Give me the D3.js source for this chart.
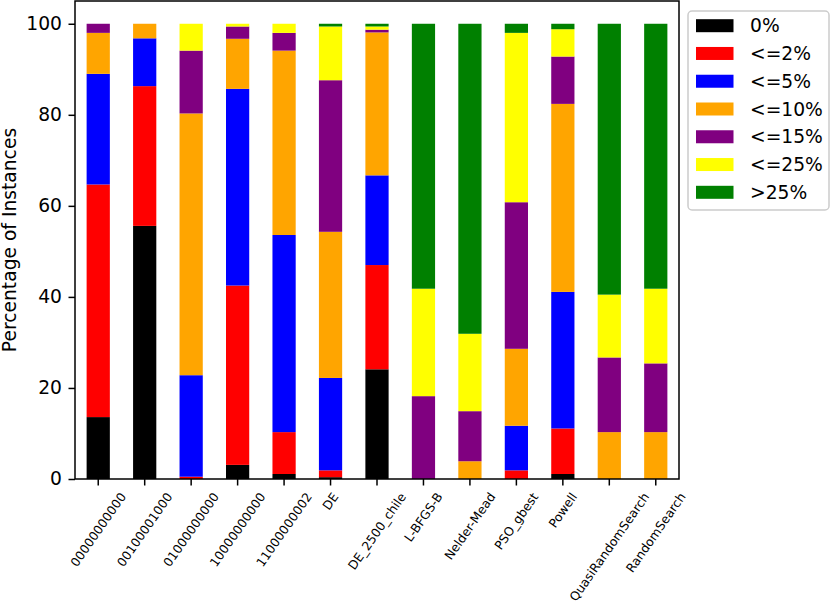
<!DOCTYPE html>
<html>
<head>
<meta charset="utf-8">
<script src="https://cdn.jsdelivr.net/npm/d3@7"></script>
<style>
  body { margin: 0; background: #fff; }
  svg { display: block; font-family: "DejaVu Sans", sans-serif; }
</style>
</head>
<body>
<svg width="831" height="612"></svg>
<script>
// chart data
const categories = ['00000000000', '00100001000', '01000000000', '10000000000', '11000000002', 'DE',
                    'DE_2500_chile', 'L-BFGS-B', 'Nelder-Mead', 'PSO_gbest', 'Powell',
                    'QuasiRandomSearch', 'RandomSearch']
const seriesNames = ['0%', '<=2%', '<=5%', '<=10%', '<=15%', '<=25%', '>25%']
const seriesColors = ['black', 'red', 'blue', 'orange', 'purple', 'yellow', 'green']

const zero      = [13.6, 55.6, 0,    3.1,  1.1,  0.4,  24.1, 0,    0,    0,    1.1,  0,    0]
const upTo2     = [51.1, 30.7, 0.5,  39.4, 9.2,  1.5,  22.9, 0,    0,    1.9,  10.0, 0,    0]
const upTo5     = [24.3, 10.5, 22.3, 43.2, 43.3, 20.3, 19.7, 0,    0,    9.8,  30.0, 0,    0]
const upTo10    = [9.0,  3.2,  57.5, 11.0, 40.5, 32.1, 31.4, 0,    3.9,  16.9, 41.3, 10.3, 10.3]
const upTo15    = [2.0,  0,    13.8, 2.7,  3.9,  33.3, 0.6,  18.2, 11.0, 32.2, 10.4, 16.4, 15.1]
const upTo25    = [0,    0,    5.9,  0.6,  2.0,  11.8, 0.7,  23.6, 17.0, 37.2, 6.0,  13.8, 16.4]
const above25   = [0,    0,    0,    0,    0,    0.6,  0.6,  58.2, 68.1, 2.0,  1.2,  59.5, 58.2]
const yTicks = [0, 20, 40, 60, 80, 100]

const seriesValues = [zero, upTo2, upTo5, upTo10, upTo15, upTo25, above25]

// rows for d3.stack
const rows = categories.map((c, i) => {
  let row = { name: c }
  seriesNames.forEach((s, j) => { row[s] = seriesValues[j][i] })
  return row
})

const svg = d3.select('svg')

const plotLeft = 75, plotRight = 679, plotTop = 1, plotBottom = 479
const bigFont = 18.7
const smallFont = 12.4
const tickLen = 6.5

const xScale = d3.scaleBand().domain(categories).range([plotLeft, plotRight])
  .paddingInner(0.5).paddingOuter(0.25)
const yScale = d3.scaleLinear().domain([0, 105]).range([plotBottom, plotTop])
const colorScale = d3.scaleOrdinal().domain(seriesNames).range(seriesColors)

const stacked = d3.stack().keys(seriesNames)(rows)

// bars
svg.append('g').selectAll('g')
  .data(stacked)
  .enter()
  .append('g')
  .attr('fill', d => colorScale(d.key))
  .selectAll('rect')
  .data(d => d)
  .enter()
  .append('rect')
  .attr('x', d => xScale(d.data.name))
  .attr('width', xScale.bandwidth())
  .attr('y', d => yScale(d[1]))
  .attr('height', d => yScale(d[0]) - yScale(d[1]))

// y axis
const yAxis = d3.axisLeft(yScale).tickValues(yTicks).tickSize(tickLen).tickPadding(6.5)
let yG = svg.append('g')
  .attr('transform', 'translate(' + plotLeft + ',0)')
  .call(yAxis)
yG.select('.domain').remove()
yG.selectAll('line').attr('stroke', 'black').attr('stroke-width', 1.5)
yG.selectAll('text')
  .style('font-size', bigFont + 'px')
  .style('font-family', '"DejaVu Sans"')
  .attr('fill', 'black')

// x axis
const xAxis = d3.axisBottom(xScale).tickSize(tickLen).tickFormat('')
let xG = svg.append('g')
  .attr('transform', 'translate(0,' + plotBottom + ')')
  .call(xAxis)
xG.select('.domain').remove()
xG.selectAll('line').attr('stroke', 'black').attr('stroke-width', 1.5)

// rotated x labels, bounding box centred under the tick (like matplotlib)
const labelTop = plotBottom + 11
const rot = 55
const ang = rot * Math.PI / 180
const lineH = smallFont * 1.17
categories.forEach(c => {
  let t = svg.append('text')
    .text(c)
    .style('font-size', smallFont + 'px')
    .attr('text-anchor', 'middle')
    .attr('dy', '0.35em')
  let w = t.node().getComputedTextLength()
  let boxH = w * Math.sin(ang) + lineH * Math.cos(ang)
  let cx = xScale(c) + xScale.bandwidth() / 2
  let cy = labelTop + boxH / 2
  t.attr('transform', 'translate(' + cx + ',' + cy + ') rotate(' + (-rot) + ')')
})

// spines
svg.append('rect')
  .attr('x', plotLeft).attr('y', plotTop)
  .attr('width', plotRight - plotLeft).attr('height', plotBottom - plotTop)
  .attr('fill', 'none').attr('stroke', 'black').attr('stroke-width', 1.5)

// y label
svg.append('text')
  .text('Percentage of Instances')
  .attr('text-anchor', 'middle')
  .attr('transform', 'translate(16,' + ((plotTop + plotBottom) / 2) + ') rotate(-90)')
  .style('font-size', bigFont + 'px')

// legend
let legend = svg.append('g')
legend.append('rect')
  .attr('x', 688).attr('y', 11)
  .attr('width', 141).attr('height', 199)
  .attr('rx', 4)
  .attr('fill', 'white').attr('fill-opacity', 0.8)
  .attr('stroke', '#cccccc').attr('stroke-width', 1.5)

const legendY = d3.scaleLinear().domain([0, seriesNames.length - 1]).range([25.7, 192.3])
seriesNames.forEach((s, i) => {
  legend.append('rect')
    .attr('x', 696).attr('y', legendY(i) - 6.5)
    .attr('width', 37.5).attr('height', 13)
    .attr('fill', colorScale(s))
  legend.append('text')
    .attr('x', 750).attr('y', legendY(i))
    .attr('dy', '0.36em')
    .text(s)
    .style('font-size', bigFont + 'px')
})
</script>
</body>
</html>
